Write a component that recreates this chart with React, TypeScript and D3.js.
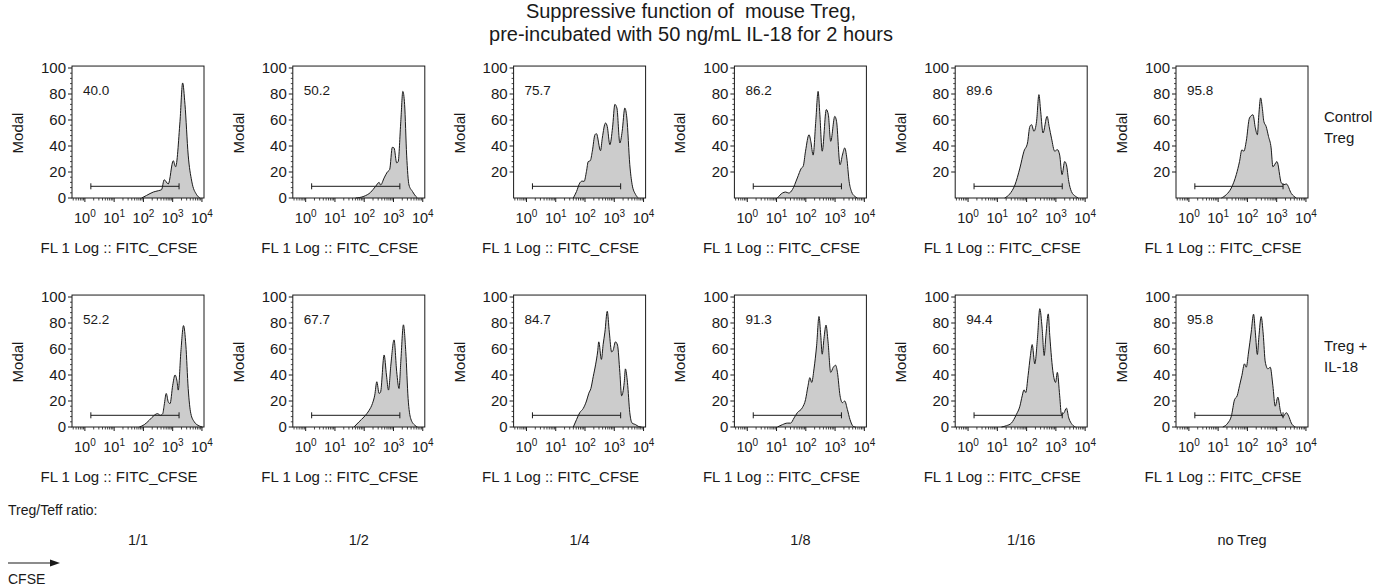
import React, { useEffect, useRef } from 'react';
import * as d3 from 'd3';

// histogram outlines: [log10 FL1 (CFSE), % of max]
const controlHists: [number, number][][] = [
  [[1.94, 0], [2.11, 2], [2.34, 4.6], [2.51, 5.6], [2.62, 6.4], [2.71, 14], [2.85, 10.8], [3.02, 28.7], [3.1, 24], [3.25, 59], [3.34, 88.5], [3.42, 72], [3.53, 33], [3.65, 13], [3.82, 2.5], [3.93, 0]],
  [[1.71, 0], [1.99, 1.3], [2.22, 4.4], [2.39, 9], [2.51, 12], [2.56, 10], [2.68, 15.4], [2.79, 20], [2.87, 22], [2.96, 39], [3.02, 38.5], [3.11, 27], [3.16, 28], [3.25, 59], [3.32, 82], [3.38, 72], [3.45, 33], [3.53, 10], [3.65, 5], [3.76, 1.3], [3.82, 0]],
  [[1.6, 0], [1.71, 5], [1.82, 11.5], [1.9, 13], [1.97, 12.8], [2.05, 20.5], [2.11, 28], [2.18, 28.7], [2.25, 36], [2.34, 48.7], [2.39, 49.5], [2.53, 36.4], [2.59, 46], [2.7, 57.7], [2.76, 55], [2.85, 41], [2.94, 54], [3.02, 72], [3.09, 69.2], [3.19, 42.3], [3.27, 51.3], [3.36, 69.2], [3.43, 61.5], [3.53, 25.6], [3.61, 10.3], [3.73, 2.6], [3.82, 0]],
  [[1.03, 0], [1.2, 3.8], [1.31, 4.6], [1.42, 3.8], [1.54, 6.4], [1.71, 15.4], [1.85, 23], [1.91, 24.4], [1.99, 36], [2.11, 48.7], [2.17, 43.6], [2.25, 33], [2.34, 59], [2.42, 82], [2.48, 64], [2.56, 36], [2.7, 68], [2.77, 64], [2.85, 43.6], [2.99, 62.8], [3.05, 59], [3.17, 25.6], [3.25, 33], [3.33, 38.5], [3.4, 30.8], [3.48, 12.8], [3.56, 5], [3.67, 1.3], [3.76, 0]],
  [[1.25, 0], [1.42, 3], [1.6, 10], [1.77, 23], [1.91, 36], [2.03, 42.3], [2.11, 55], [2.17, 56.4], [2.25, 51.3], [2.34, 59], [2.42, 79.5], [2.48, 66.7], [2.56, 50], [2.7, 62.8], [2.77, 55], [2.85, 46], [2.96, 36], [3.05, 37.2], [3.13, 33], [3.21, 18], [3.3, 28], [3.36, 25.6], [3.44, 12.8], [3.53, 5], [3.67, 1.3], [3.76, 0]],
  [[1.11, 0], [1.28, 2.6], [1.45, 7.7], [1.62, 18], [1.73, 28], [1.81, 37], [1.88, 36], [1.96, 43.6], [2.07, 61.5], [2.19, 64], [2.27, 54], [2.34, 48.7], [2.39, 64], [2.45, 77], [2.51, 69], [2.56, 59], [2.64, 55], [2.72, 47.4], [2.81, 38.5], [2.87, 24], [3.01, 28], [3.16, 11.5], [3.25, 10.3], [3.33, 10.8], [3.5, 3.5], [3.67, 0]],
];

const il18Hists: [number, number][][] = [
  [[1.86, 0], [2.03, 1.8], [2.2, 5.2], [2.37, 9], [2.48, 10.3], [2.58, 9], [2.66, 10.3], [2.71, 16.8], [2.78, 25.8], [2.85, 19.3], [2.91, 18], [3.0, 32], [3.08, 40], [3.15, 35], [3.19, 28.4], [3.28, 58], [3.37, 78], [3.45, 63], [3.53, 29.6], [3.62, 10.3], [3.74, 3.9], [3.91, 0.8], [4.02, 0]],
  [[1.65, 0], [1.82, 3.9], [1.99, 7.7], [2.09, 10.3], [2.17, 12.9], [2.28, 18], [2.36, 24.5], [2.43, 34.8], [2.51, 25.8], [2.56, 27], [2.68, 55.4], [2.76, 40], [2.83, 28.4], [2.91, 47.7], [3.02, 67], [3.11, 42.5], [3.19, 29.6], [3.25, 50.3], [3.34, 78.6], [3.42, 58], [3.5, 21.9], [3.59, 6.4], [3.73, 1.3], [3.82, 0]],
  [[1.6, 0], [1.71, 5.7], [1.82, 11], [1.94, 14.3], [2.05, 20], [2.13, 26], [2.2, 29.6], [2.28, 38.7], [2.36, 47.8], [2.43, 57.7], [2.47, 65.5], [2.56, 52], [2.62, 63.6], [2.68, 73], [2.76, 89], [2.83, 73], [2.91, 57.7], [2.96, 59], [3.04, 65.5], [3.11, 63], [3.19, 42], [3.25, 24], [3.34, 34.3], [3.38, 44.7], [3.45, 34.3], [3.53, 11], [3.61, 3], [3.73, 1.8], [3.82, 0.5], [3.93, 0]],
  [[1.03, 0], [1.2, 1.8], [1.37, 3], [1.48, 3], [1.6, 7], [1.71, 11], [1.88, 14.8], [1.99, 21], [2.07, 31], [2.14, 38], [2.2, 34.3], [2.28, 44.7], [2.37, 62.9], [2.45, 85], [2.51, 70.6], [2.56, 56], [2.62, 68], [2.69, 78.4], [2.76, 65.5], [2.85, 42], [2.94, 46], [3.02, 47.5], [3.08, 42], [3.17, 24], [3.25, 18.7], [3.33, 20], [3.42, 13.5], [3.51, 5.7], [3.62, 0.5], [3.7, 0]],
  [[1.14, 0], [1.31, 1], [1.48, 3], [1.65, 9.6], [1.77, 16], [1.85, 24], [1.91, 28.6], [1.97, 26.5], [2.05, 39.5], [2.13, 55], [2.19, 63.4], [2.28, 48.6], [2.37, 68], [2.45, 91], [2.53, 76], [2.6, 55], [2.66, 70.6], [2.74, 87], [2.79, 70.6], [2.91, 40.8], [2.99, 34.3], [3.05, 42], [3.13, 24], [3.19, 9.6], [3.28, 11], [3.36, 14.5], [3.44, 7], [3.56, 1.8], [3.67, 0]],
  [[1.16, 0], [1.33, 3], [1.45, 8.3], [1.56, 21], [1.65, 24], [1.73, 31.7], [1.81, 39.5], [1.9, 48.6], [1.96, 46], [2.04, 57.7], [2.13, 73], [2.21, 86.8], [2.27, 73], [2.34, 55.8], [2.39, 68.8], [2.47, 84.9], [2.54, 71.4], [2.61, 50], [2.7, 44.7], [2.78, 46], [2.87, 31.7], [2.95, 16], [3.04, 23], [3.13, 12], [3.21, 7.8], [3.33, 11], [3.41, 8.3], [3.5, 3], [3.64, 0]],
];

const controlPercents = ['40.0', '50.2', '75.7', '86.2', '89.6', '95.8'];
const il18Percents = ['52.2', '67.7', '84.7', '91.3', '94.4', '95.8'];
const ratioLabels = ['1/1', '1/2', '1/4', '1/8', '1/16', 'no Treg'];
const rowLabels = [['Control', 'Treg'], ['Treg +', 'IL-18']];
const controlZeroLabel = [true, true, false, false, false, false];
const yTicks = [0, 20, 40, 60, 80, 100];
const xDecades = [0, 1, 2, 3, 4];
const gateRange = [1.6, 1650];
const gateLevel = 9;
const titleLines = ['Suppressive function of  mouse Treg,', 'pre-incubated with 50 ng/mL IL-18 for 2 hours'];

const FONT = '"Liberation Sans", Arial, Helvetica, sans-serif';
const INK = '#1a1a1a';

function App() {
  const svgRef = useRef<SVGSVGElement>(null);

  useEffect(() => {
    const dims = {
      width: 1383,
      height: 586,
      frameW: 132,
      frameH: 130,
      colX0: 72,
      colStep: 220.8,
      rowTops: [68, 297],
    };

    const svg = d3.select(svgRef.current);
    svg.selectAll('*').remove();
    svg.attr('width', dims.width).attr('height', dims.height);

    const xScale = d3
      .scaleLog()
      .domain([10 ** -0.44, 10 ** 4.07])
      .range([0, dims.frameW]);

    const yScale = d3.scaleLinear().domain([0, 100]).range([dims.frameH, 0]);

    const area = d3
      .area<[number, number]>()
      .x((d) => xScale(10 ** d[0]))
      .y0(yScale(0))
      .y1((d) => yScale(d[1]))
      .curve(d3.curveMonotoneX);

    const line = d3
      .line<[number, number]>()
      .x((d) => xScale(10 ** d[0]))
      .y((d) => yScale(d[1]))
      .curve(d3.curveMonotoneX);

    // minor ticks for log axis
    const minorX: number[] = [];
    for (let dec = -1; dec <= 4; dec++) {
      for (let k = 2; k <= 9; k++) {
        const v = k * 10 ** dec;
        if (v >= xScale.domain()[0] && v <= xScale.domain()[1]) minorX.push(v);
      }
    }
    const minorY = d3.range(0, 101, 4).filter((v) => v % 20 !== 0);

    const drawPanel = (row: number, col: number, hist: [number, number][], pct: string, zeroLabel: boolean) => {
      const g = svg
        .append('g')
        .attr('transform', `translate(${dims.colX0 + col * dims.colStep},${dims.rowTops[row]})`);

      g.append('path').attr('d', area(hist)).attr('fill', '#cccccc');
      g.append('path')
        .attr('d', line(hist))
        .attr('fill', 'none')
        .attr('stroke', INK)
        .attr('stroke-width', 1);

      // frame
      g.append('rect')
        .attr('x', 0)
        .attr('y', yScale(101.5))
        .attr('width', dims.frameW)
        .attr('height', yScale(0) - yScale(101.5))
        .attr('fill', 'none')
        .attr('stroke', INK)
        .attr('stroke-width', 1);

      // y axis ticks
      const yt = yTicks.filter((t) => zeroLabel || t > 0);
      g.selectAll('.ymaj')
        .data(yt)
        .enter()
        .append('line')
        .attr('x1', -4)
        .attr('x2', 0)
        .attr('y1', (d) => yScale(d))
        .attr('y2', (d) => yScale(d))
        .attr('stroke', INK);
      g.selectAll('.ymin')
        .data(minorY.filter((t) => zeroLabel || t > 16))
        .enter()
        .append('line')
        .attr('x1', -2)
        .attr('x2', 0)
        .attr('y1', (d) => yScale(d))
        .attr('y2', (d) => yScale(d))
        .attr('stroke', INK)
        .attr('stroke-width', 0.8);
      g.selectAll('.ylab')
        .data(yt)
        .enter()
        .append('text')
        .attr('x', -6)
        .attr('y', (d) => yScale(d))
        .attr('dy', '0.36em')
        .attr('text-anchor', 'end')
        .attr('font-size', 15)
        .attr('font-family', FONT)
        .attr('fill', INK)
        .text((d) => d);

      g.append('text')
        .attr('transform', `translate(-49,${dims.frameH / 2}) rotate(-90)`)
        .attr('text-anchor', 'middle')
        .attr('font-size', 15)
        .attr('font-family', FONT)
        .attr('fill', INK)
        .text('Modal');

      // x axis ticks (outward)
      g.selectAll('.xmin')
        .data(minorX)
        .enter()
        .append('line')
        .attr('x1', (d) => xScale(d))
        .attr('x2', (d) => xScale(d))
        .attr('y1', dims.frameH)
        .attr('y2', dims.frameH + 2.5)
        .attr('stroke', INK)
        .attr('stroke-width', 0.8);
      g.selectAll('.xmaj')
        .data(xDecades)
        .enter()
        .append('line')
        .attr('x1', (d) => xScale(10 ** d))
        .attr('x2', (d) => xScale(10 ** d))
        .attr('y1', dims.frameH)
        .attr('y2', dims.frameH + 4)
        .attr('stroke', INK);
      const xl = g
        .selectAll('.xlab')
        .data(xDecades)
        .enter()
        .append('text')
        .attr('x', (d) => xScale(10 ** d))
        .attr('y', dims.frameH + 25)
        .attr('text-anchor', 'middle')
        .attr('font-size', 14.5)
        .attr('font-family', FONT)
        .attr('fill', INK);
      xl.append('tspan').text('10');
      xl.append('tspan')
        .attr('dy', -6)
        .attr('font-size', 10)
        .text((d) => d);

      // axis title sits centred under the whole panel (axis + labels)
      g.append('text')
        .attr('x', dims.frameW / 2 - 19)
        .attr('y', dims.frameH + 55)
        .attr('text-anchor', 'middle')
        .attr('font-size', 15)
        .attr('font-family', FONT)
        .attr('fill', INK)
        .text('FL 1 Log :: FITC_CFSE');

      // gate
      const gy = yScale(gateLevel);
      const gx0 = xScale(gateRange[0]);
      const gx1 = xScale(gateRange[1]);
      g.append('line').attr('x1', gx0).attr('x2', gx1).attr('y1', gy).attr('y2', gy).attr('stroke', INK);
      [gx0, gx1].forEach((x) =>
        g.append('line').attr('x1', x).attr('x2', x).attr('y1', gy - 3).attr('y2', gy + 3).attr('stroke', INK)
      );

      g.append('text')
        .attr('x', 11)
        .attr('y', 27)
        .attr('font-size', 13.5)
        .attr('font-family', FONT)
        .attr('fill', INK)
        .text(pct);
    };

    controlHists.forEach((h, i) => drawPanel(0, i, h, controlPercents[i], controlZeroLabel[i]));
    il18Hists.forEach((h, i) => drawPanel(1, i, h, il18Percents[i], true));

    // row labels
    const rightX = dims.colX0 + 5 * dims.colStep + dims.frameW + 16;
    rowLabels.forEach((lines, r) => {
      lines.forEach((txt, j) => {
        svg
          .append('text')
          .attr('x', rightX)
          .attr('y', dims.rowTops[r] + 54 + j * 21)
          .attr('font-size', 15)
          .attr('font-family', FONT)
          .attr('fill', INK)
          .text(txt);
      });
    });

    // title
    titleLines.forEach((txt, i) => {
      svg
        .append('text')
        .attr('x', 691)
        .attr('y', 18 + i * 23)
        .attr('text-anchor', 'middle')
        .attr('font-size', 20)
        .attr('font-family', FONT)
        .attr('fill', INK)
        .style('white-space', 'pre')
        .text(txt);
    });

    // ratio row
    svg
      .append('text')
      .attr('x', 8)
      .attr('y', 515)
      .attr('font-size', 14)
      .attr('font-family', FONT)
      .attr('fill', INK)
      .text('Treg/Teff ratio:');
    ratioLabels.forEach((txt, i) => {
      svg
        .append('text')
        .attr('x', dims.colX0 + i * dims.colStep + dims.frameW / 2)
        .attr('y', 545)
        .attr('text-anchor', 'middle')
        .attr('font-size', 14.5)
        .attr('font-family', FONT)
        .attr('fill', INK)
        .text(txt);
    });

    // CFSE arrow
    svg.append('line').attr('x1', 8).attr('x2', 52).attr('y1', 563).attr('y2', 563).attr('stroke', INK).attr('stroke-width', 1.2);
    svg.append('path').attr('d', 'M60,563 L50,559.5 L50,566.5 Z').attr('fill', INK);
    svg
      .append('text')
      .attr('x', 8)
      .attr('y', 584)
      .attr('font-size', 14)
      .attr('font-family', FONT)
      .attr('fill', INK)
      .text('CFSE');
  }, []);

  return <svg ref={svgRef} style={{ position: 'absolute', left: 0, top: 0, display: 'block', background: '#fff' }} />;
}

export default App;
